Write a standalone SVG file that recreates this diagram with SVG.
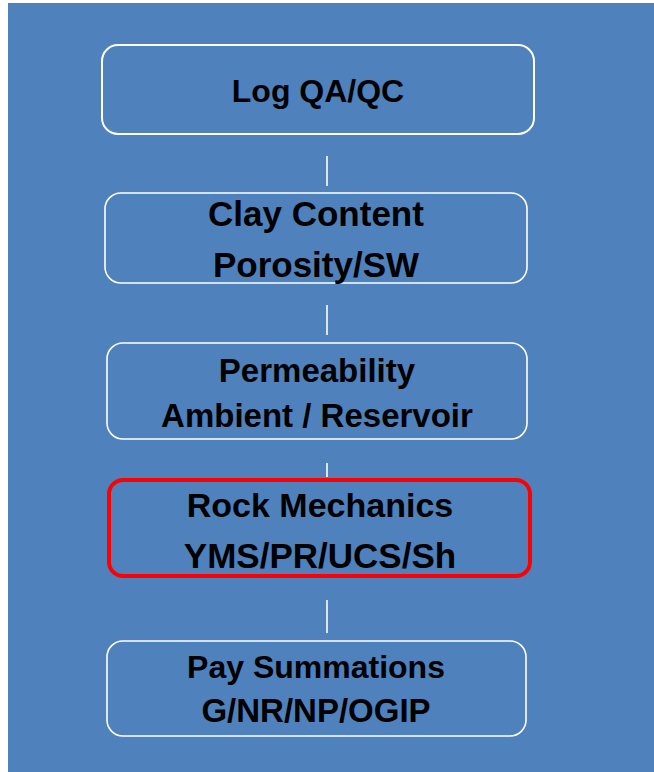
<svg xmlns="http://www.w3.org/2000/svg" width="654" height="772" viewBox="0 0 654 772">
<style>
.box{fill:none;stroke:#FFFFFF;stroke-width:1.6}
.hl{fill:none;stroke:#FF0000;stroke-width:4}
.conn{stroke:#FFFFFF;stroke-width:1.6}
text{font-family:"Liberation Sans",Arial,sans-serif;font-weight:bold;fill:#000000;text-anchor:middle}
</style>
<rect x="0" y="0" width="654" height="772" fill="#FFFFFF"/>
<rect x="8" y="3" width="646" height="769" fill="#4F81BD"/>
<g id="connectors">
<line class="conn" x1="327" y1="156" x2="327" y2="186"/>
<line class="conn" x1="327" y1="305" x2="327" y2="335"/>
<line class="conn" x1="327" y1="463" x2="327" y2="477"/>
<line class="conn" x1="327" y1="600" x2="327" y2="633"/>
</g>
<g id="node1">
<rect class="box" x="102" y="45" width="432" height="89" rx="16" style="stroke-width:2"/>
<text x="318" y="102" font-size="32">Log QA/QC</text>
</g>
<g id="node2">
<rect class="box" x="105" y="193" width="422" height="90" rx="16"/>
<text x="316" y="226" font-size="35">Clay Content</text>
<text x="316" y="277" font-size="35">Porosity/SW</text>
</g>
<g id="node3">
<rect class="box" x="107" y="343" width="420" height="96" rx="16"/>
<text x="317" y="382" font-size="33">Permeability</text>
<text x="317" y="427" font-size="33">Ambient / Reservoir</text>
</g>
<g id="node4">
<rect class="hl" x="109" y="480" width="421" height="96" rx="14"/>
<text x="320" y="517" font-size="34">Rock Mechanics</text>
<text x="320" y="568" font-size="35">YMS/PR/UCS/Sh</text>
</g>
<g id="node5">
<rect class="box" x="107" y="641" width="419" height="95" rx="16"/>
<text x="316" y="678" font-size="32">Pay Summations</text>
<text x="316" y="722" font-size="33">G/NR/NP/OGIP</text>
</g>
</svg>
